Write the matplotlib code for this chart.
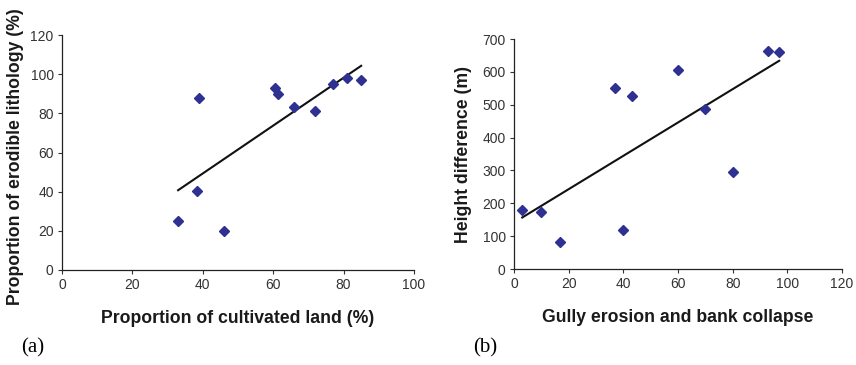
import numpy as np
import matplotlib
matplotlib.use("Agg")
from matplotlib import pyplot as plt

# (a) cultivated land vs erodible lithology
cultivated = [33, 38.5, 39, 46, 60.5, 61.5, 66, 72, 77, 81, 85]
erodible = [25, 40.5, 88, 20, 93, 90, 83, 81, 95, 98, 97]

# (b) gully erosion vs height difference
gully = [3, 10, 17, 37, 40, 43, 60, 70, 80, 93, 97]
height_diff = [180, 172, 82, 552, 120, 528, 607, 486, 296, 665, 660]

plt.rcParams['font.family'] = ['Liberation Sans', 'DejaVu Sans']

marker_color = '#2E3192'
tick_color = '#333333'


def draw_panel(ax, x, y, xticks, yticks, xlabel, ylabel):
    ax.plot(x, y, 'D', color=marker_color, markersize=5.5, zorder=3)
    k, b = np.polyfit(x, y, 1)
    xs = np.array([min(x), max(x)])
    ax.plot(xs, k * xs + b, color='#111111', linewidth=1.5, zorder=2)

    ax.set_xlim(xticks[0], xticks[-1])
    ax.set_ylim(yticks[0], yticks[-1])
    ax.set_xticks(xticks)
    ax.set_yticks(yticks)
    ax.tick_params(direction='out', length=3, width=0.8, labelsize=10,
                   colors=tick_color, labelcolor=tick_color, pad=3)
    for side in ['top', 'right']:
        ax.spines[side].set_visible(False)
    for side in ['left', 'bottom']:
        ax.spines[side].set_color('#222222')
        ax.spines[side].set_linewidth(0.9)
    ax.set_xlabel(xlabel, fontsize=12.7, fontweight='bold', color='#1a1a1a', labelpad=13)
    ax.set_ylabel(ylabel, fontsize=12.7, fontweight='bold', color='#1a1a1a')


fig = plt.figure(figsize=(8.56, 3.65), dpi=100)
ax1 = fig.add_axes([0.0724, 0.2603, 0.4112, 0.6437])
ax2 = fig.add_axes([0.6005, 0.2630, 0.3832, 0.6301])

draw_panel(ax1, cultivated, erodible, list(range(0, 101, 20)), list(range(0, 121, 20)),
           'Proportion of cultivated land (%)', 'Proportion of erodible lithology (%)')
draw_panel(ax2, gully, height_diff, list(range(0, 121, 20)), list(range(0, 701, 100)),
           'Gully erosion and bank collapse', 'Height difference (m)')

# y labels placed where the reference has them (pixel positions)
ax1.yaxis.set_label_coords((24 - 62) / 352, (270 - 157) / 235)
ax2.yaxis.set_label_coords((472 - 514) / 328, 0.5)

fig.text(33 / 856, 1 - 348 / 365, '(a)', family='Liberation Serif', fontsize=15,
         ha='center', va='center')
fig.text(485 / 856, 1 - 348 / 365, '(b)', family='Liberation Serif', fontsize=15,
         ha='center', va='center')

fig.savefig('out.png', dpi=100)
